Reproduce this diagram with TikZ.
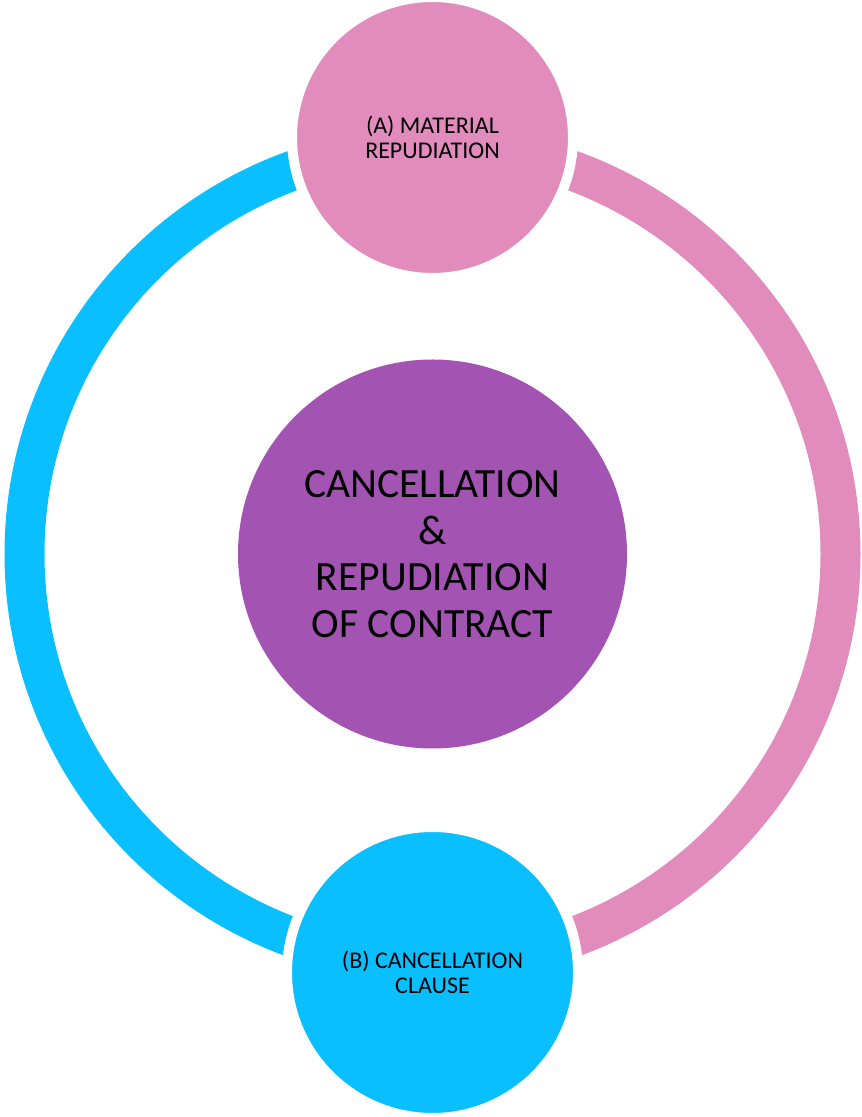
\documentclass[tikz,border=0pt]{standalone}
\usepackage{fontspec}
\setmainfont{Carlito}
\usepackage{tikz}
\definecolor{ringpink}{HTML}{E28CBE}
\definecolor{ringblue}{HTML}{0ABFFF}
\definecolor{hubpurple}{HTML}{A354B3}

\begin{document}
\begin{tikzpicture}[x=1pt,y=1pt,
    bubble/.style={circle,draw=white,line width=10pt,inner sep=0pt,align=center,
      font=\fontsize{24}{25.5}\selectfont},
    band/.style={line width=40pt}]
    \useasboundingbox (0,0) rectangle (862,1117);
    \node[circle,fill=hubpurple,minimum size=389pt,inner sep=0pt,align=center,
      font=\fontsize{41.6}{46.7}\selectfont] (hub) at (432.5,563)
      {CANCELLATION\\\&\\REPUDIATION\\OF CONTRACT};
    %
    \draw[band,ringpink] (hub.center) ++(0,408) arc[start angle=90,end angle=-90,radius=408pt];
    \draw[band,ringblue] (hub.center) ++(0,408) arc[start angle=90,end angle=270,radius=408pt];
    %
    \node[bubble,fill=ringpink,minimum size=281pt] (matA) at (432.5,979.5) {(A) MATERIAL\\REPUDIATION};
    \node[bubble,fill=ringblue,minimum size=291pt] (clauseB) at (432.5,144.5) {(B) CANCELLATION\\CLAUSE};
\end{tikzpicture}
\end{document}
